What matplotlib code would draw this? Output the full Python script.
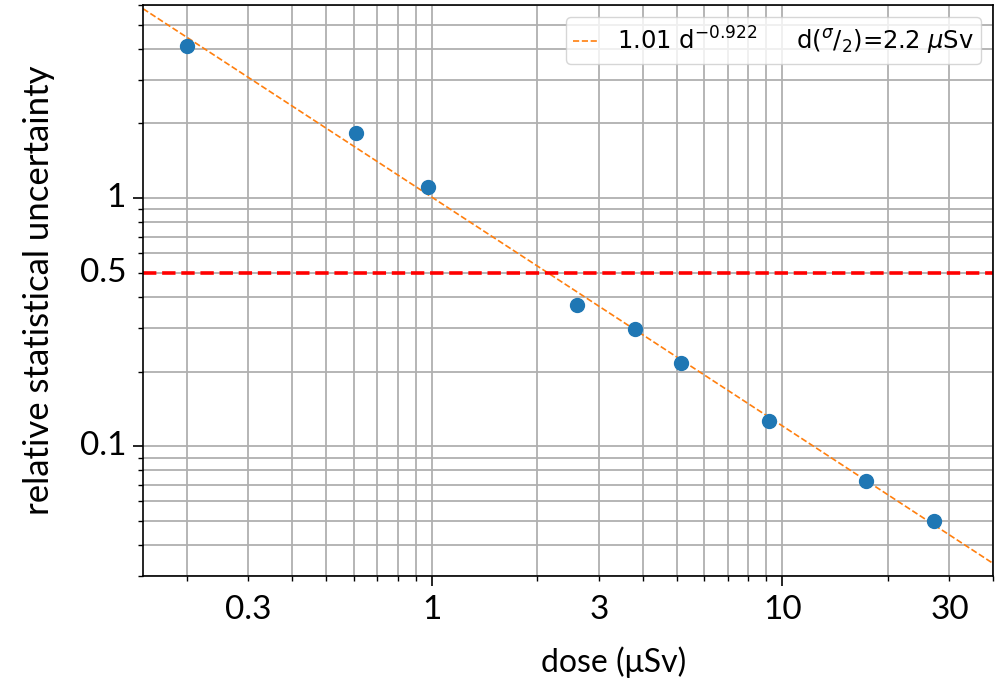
import numpy as np
import matplotlib
matplotlib.use("Agg")
import matplotlib.pyplot as plt
from matplotlib.ticker import LogLocator, NullFormatter

# measured dose (µSv) and relative statistical uncertainty
dose = [0.201, 0.607, 0.976, 2.60, 3.81, 5.15, 9.14, 17.3, 27.1]
rel_unc = [4.09, 1.83, 1.104, 0.371, 0.298, 0.217, 0.1265, 0.0722, 0.0499]

# power-law fit  a * d^b
fit_a = 1.01
fit_b = -0.922
half_dose = 2.2
threshold = 0.5

x_ticks = [0.3, 1, 3, 10, 30]
x_tick_labels = ["0.3", "1", "3", "10", "30"]
y_ticks = [0.1, 0.5, 1]
y_tick_labels = ["0.1", "0.5", "1"]

label_font = "Lato"

fig = plt.figure(figsize=(10, 6.81), dpi=100)
ax = fig.add_axes([0.1427, 0.1542, 0.8506, 0.8385])
ax.set_xscale("log")
ax.set_yscale("log")
ax.set_xlim(0.15, 40)
ax.set_ylim(0.03, 6.0)

d = np.geomspace(0.1, 60, 200)
ax.plot(d, fit_a * d ** fit_b, linestyle="--", color="C1", lw=1.2, zorder=2,
        label=f"{fit_a:.2f} d$^{{{fit_b:.3f}}}$" + "     "
              + r"d($^{\sigma}/_{2}$)=" + f"{half_dose:.1f}" + r" $\mu$Sv")
ax.axhline(threshold, color="red", linestyle="--", lw=2.6, zorder=2)
ax.plot(dose, rel_unc, "o", color="C0", markersize=10, zorder=3)

# ticks: decades are major, labelled minor ticks in between
ax.xaxis.set_major_locator(LogLocator(base=10, numticks=10))
ax.xaxis.set_minor_locator(LogLocator(base=10, subs=np.arange(2, 10), numticks=20))
ax.xaxis.set_major_formatter(NullFormatter())
ax.xaxis.set_minor_formatter(NullFormatter())
ax.yaxis.set_major_locator(LogLocator(base=10, numticks=10))
ax.yaxis.set_minor_locator(LogLocator(base=10, subs=np.arange(2, 10), numticks=20))
ax.yaxis.set_major_formatter(NullFormatter())
ax.yaxis.set_minor_formatter(NullFormatter())

ax.grid(True, which="both", color="#b0b0b0", lw=1.3)
ax.set_axisbelow(True)
ax.tick_params(which="major", length=7, width=1.2)
ax.tick_params(which="minor", length=3.5, width=1.0)
for sp in ax.spines.values():
    sp.set_linewidth(1.2)

for xv, lab in zip(x_ticks, x_tick_labels):
    ax.annotate(lab, xy=(xv, 0), xycoords=("data", "axes fraction"),
                xytext=(0, -14), textcoords="offset points",
                ha="center", va="top", fontsize=24, family=label_font)
for yv, lab in zip(y_ticks, y_tick_labels):
    ax.annotate(lab, xy=(0, yv), xycoords=("axes fraction", "data"),
                xytext=(-12, 0), textcoords="offset points",
                ha="right", va="center", fontsize=24, family=label_font)

ax.set_xlabel("dose (\u03bcSv)", fontsize=23, family=label_font)
ax.xaxis.set_label_coords(0.554, -0.124)
ax.set_ylabel("relative statistical uncertainty", fontsize=25, family=label_font)
ax.yaxis.set_label_coords(-0.103, 0.5)

ax.legend(loc="upper right", fontsize=17.5, handlelength=1.0, handletextpad=0.8,
          borderpad=0.3, borderaxespad=0.5, framealpha=0.8)

fig.savefig("out.png", dpi=100)
